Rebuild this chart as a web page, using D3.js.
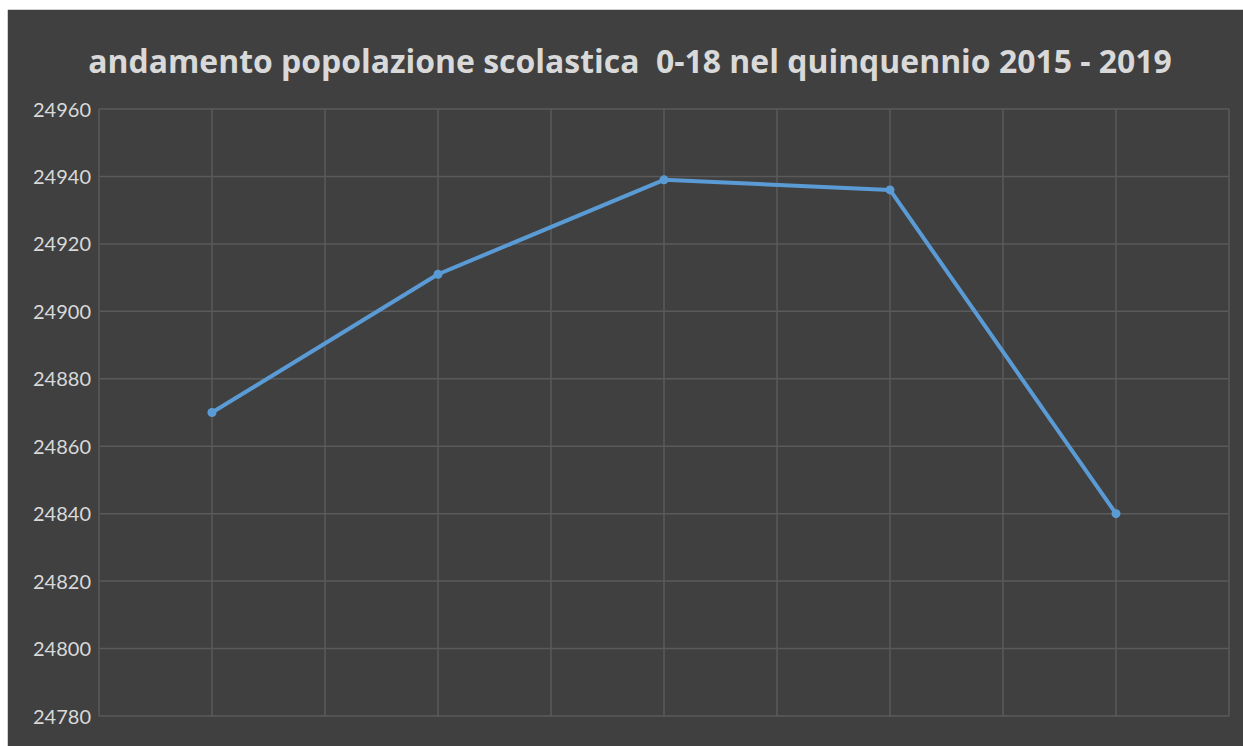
<!DOCTYPE html>
<html><head><meta charset="utf-8">
<script src="https://cdn.jsdelivr.net/npm/d3@7"></script>
<style>html,body{margin:0;padding:0;background:#fff;}svg{display:block;}</style>
</head><body>
<script>
const categories = ["2015", "2016", "2017", "2018", "2019"];
const values = [24870, 24911, 24939, 24936, 24840];
const yTicks = [24780, 24800, 24820, 24840, 24860, 24880, 24900, 24920, 24940, 24960];
const titleText = "andamento popolazione scolastica  0-18 nel quinquennio 2015 - 2019";

const W = 1243, H = 746;
const svg = d3.select("body").append("svg").attr("width", W).attr("height", H);
svg.append("rect").attr("x", 0).attr("y", 0).attr("width", W).attr("height", H).attr("fill", "#ffffff");
svg.append("rect").attr("x", 8).attr("y", 10).attr("width", W - 8).attr("height", H - 10).attr("fill", "#404040");
svg.append("line").attr("x1", 8).attr("x2", W).attr("y1", 9.5).attr("y2", 9.5).attr("stroke", "#d0d0d0");
svg.append("line").attr("x1", 7.5).attr("x2", 7.5).attr("y1", 10).attr("y2", H).attr("stroke", "#d0d0d0");

const pLeft = 99, pRight = 1229, pTop = 109, pBottom = 716;
const x = d3.scaleBand().domain(categories).range([pLeft, pRight]).padding(0);
const y = d3.scaleLinear().domain([24780, 24960]).range([pBottom, pTop]);

const grid = svg.append("g");
grid.selectAll("line.h").data(yTicks).join("line")
  .attr("x1", pLeft).attr("x2", pRight)
  .attr("y1", d => y(d)).attr("y2", d => y(d))
  .attr("stroke", "#5a5a5a").attr("stroke-width", 1.5);
const vlines = [];
categories.forEach(c => { vlines.push(x(c)); vlines.push(x(c) + x.bandwidth() / 2); });
vlines.push(pRight);
grid.selectAll("line.v").data(vlines).join("line")
  .attr("x1", d => d).attr("x2", d => d)
  .attr("y1", pTop).attr("y2", pBottom)
  .attr("stroke", "#5a5a5a").attr("stroke-width", 1.5);

const yAxis = d3.axisLeft(y).tickValues(yTicks).tickSize(0).tickPadding(8).tickFormat(d3.format("d"));
const ga = svg.append("g").attr("transform", `translate(${pLeft},0)`).call(yAxis);
ga.select(".domain").remove();
ga.selectAll("text").attr("fill", "#d9d9d9").attr("font-family", "Lato, sans-serif")
  .attr("font-size", 20).attr("dy", "0.35em");

const line = d3.line().x((d, i) => x(categories[i]) + x.bandwidth() / 2).y(d => y(d));
svg.append("path").datum(values).attr("d", line)
  .attr("fill", "none").attr("stroke", "#5b9bd5").attr("stroke-width", 4)
  .attr("stroke-linejoin", "round");
svg.selectAll("circle.pt").data(values).join("circle")
  .attr("cx", (d, i) => x(categories[i]) + x.bandwidth() / 2)
  .attr("cy", d => y(d)).attr("r", 4.5).attr("fill", "#5b9bd5");

const t = svg.append("text").attr("x", 630).attr("y", 73).attr("text-anchor", "middle")
  .style("white-space", "pre")
  .attr("fill", "#d9d9d9").attr("font-family", "'Open Sans', sans-serif")
  .attr("font-weight", "bold").attr("font-size", 28).text(titleText);
const len = t.node().getComputedTextLength();
t.attr("font-size", 28 * 1084 / len);
</script>
</body></html>
